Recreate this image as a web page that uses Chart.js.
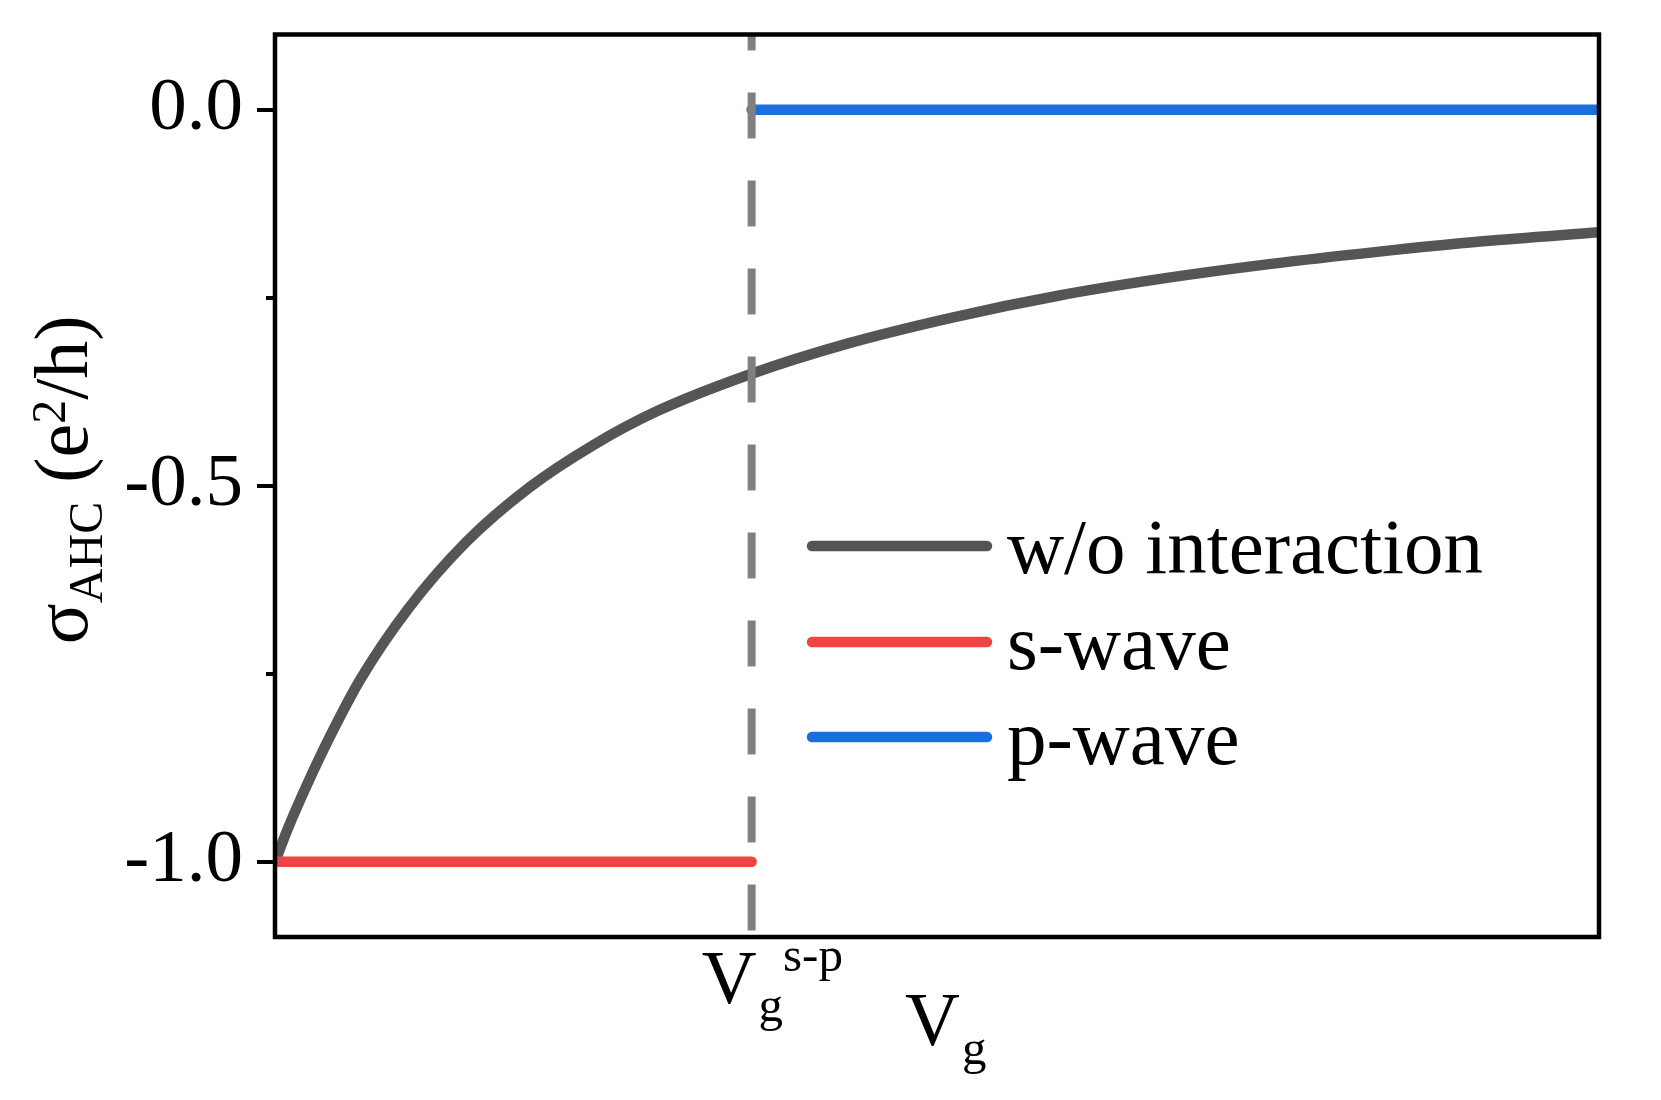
<!DOCTYPE html>
<html>
<head>
<meta charset="utf-8">
<script src="https://cdn.jsdelivr.net/npm/chart.js@4/dist/chart.umd.min.js"></script>
<style>
  html, body { margin: 0; padding: 0; background: #fff; }
  canvas { display: block; }
</style>
</head>
<body>
<canvas id="c" width="1661" height="1100"></canvas>
<script>
// ---- data ----
const vg          = [0, 0.0099, 0.0243, 0.0425, 0.0643, 0.1004, 0.1443, 0.1923, 0.2403, 0.2883, 0.36, 0.4323, 0.5123, 0.5924, 0.6724, 0.7524, 0.8324, 0.9124, 1.0];
const sigmaNoInt  = [-1.0, -0.955, -0.897, -0.83, -0.758, -0.664, -0.575, -0.502, -0.446, -0.401, -0.351, -0.311, -0.276, -0.247, -0.224, -0.205, -0.189, -0.175, -0.163];
const vgSP        = 0.36;             // V_g^{s-p} transition point
const sWaveX      = [0, vgSP];
const sWaveY      = [-1.0, -1.0];
const pWaveX      = [vgSP, 1.0];
const pWaveY      = [0.0, 0.0];
const xRange      = [0, 1];
const yRange      = [-1.1, 0.1];
const yTicks      = [-1.0, -0.5, 0.0];
const yMinorTicks = [-0.75, -0.25];
const seriesNames = ['w/o interaction', 's-wave', 'p-wave'];
const seriesColors = ['#555555', '#F04444', '#1B6FDC'];
const dashColor   = '#808080';

const pts = (xs, ys) => xs.map((x, i) => ({ x: x, y: ys[i] }));
const SERIF = '"Liberation Serif", "Times New Roman", serif';

const deco = {
  id: 'deco',
  afterDatasetsDraw(chart) {
    const { ctx, chartArea: a, scales: { x, y } } = chart;
    ctx.save();
    // frame
    ctx.strokeStyle = '#000';
    ctx.lineWidth = 4.5;
    ctx.strokeRect(a.left, a.top, a.right - a.left, a.bottom - a.top);
    // y ticks
    ctx.lineWidth = 4;
    ctx.lineCap = 'butt';
    const tick = (v, len) => {
      const py = Math.round(y.getPixelForValue(v));
      ctx.beginPath(); ctx.moveTo(a.left - len, py); ctx.lineTo(a.left, py); ctx.stroke();
    };
    yTicks.forEach(v => tick(v, 18));
    yMinorTicks.forEach(v => tick(v, 9));

    // legend
    const lgX0 = a.left + 537, lgX1 = a.left + 712, lgText = a.left + 732;
    const lgY = [546, 642, 737];
    ctx.lineCap = 'round';
    ctx.lineWidth = 10.5;
    ctx.font = '79px ' + SERIF;
    ctx.textBaseline = 'alphabetic';
    ctx.textAlign = 'left';
    seriesNames.forEach((n, i) => {
      ctx.strokeStyle = seriesColors[i];
      ctx.beginPath(); ctx.moveTo(lgX0, lgY[i]); ctx.lineTo(lgX1, lgY[i]); ctx.stroke();
      ctx.fillStyle = '#000';
      ctx.fillText(n, lgText, lgY[i] + 27);
    });

    // rich text helper
    const drawSegs = (segs, x0, y0) => {
      let cx = x0;
      segs.forEach(s => {
        ctx.font = s.f + 'px ' + SERIF;
        ctx.fillText(s.t, cx, y0 + s.dy);
        cx += ctx.measureText(s.t).width + (s.gap || 0);
      });
      return cx - x0;
    };
    const segWidth = segs => segs.reduce((w, s) => { ctx.font = s.f + 'px ' + SERIF; return w + ctx.measureText(s.t).width + (s.gap || 0); }, 0);

    ctx.fillStyle = '#000';
    // x label at transition: V_g^{s-p}
    const xd = x.getPixelForValue(vgSP);
    drawSegs([
      { t: 'V', f: 76, dy: 0, gap: 2 },
      { t: 'g', f: 49, dy: 18 },
      { t: 's-p', f: 49, dy: -32 }
    ], xd - 50, a.bottom + 66);

    // x axis title: V_g
    const xc = (a.left + a.right) / 2;
    drawSegs([
      { t: 'V', f: 76, dy: 0, gap: 2 },
      { t: 'g', f: 49, dy: 19 }
    ], xc - 32, a.bottom + 108);

    // y axis title: σ_AHC (e^2/h)
    const ySegs = [
      { t: 'σ', f: 76, dy: 0 },
      { t: 'AHC', f: 48, dy: 15 },
      { t: ' (e', f: 76, dy: 0 },
      { t: '2', f: 48, dy: -22 },
      { t: '/h)', f: 76, dy: 0 }
    ];
    const yc = (a.top + a.bottom) / 2 - 6;
    const w = segWidth(ySegs);
    ctx.translate(87, yc);
    ctx.rotate(-Math.PI / 2);
    drawSegs(ySegs, -w / 2, 0);
    ctx.restore();
  }
};

new Chart(document.getElementById('c'), {
  type: 'line',
  data: {
    datasets: [
      {
        label: 'transition',
        data: [{ x: vgSP, y: yRange[1] }, { x: vgSP, y: yRange[0] }],
        borderColor: dashColor, borderWidth: 8, borderDash: [46, 42], borderDashOffset: 30,
        pointRadius: 0, order: 0
      },
      {
        label: seriesNames[2], data: pts(pWaveX, pWaveY),
        borderColor: seriesColors[2], borderWidth: 10.5, borderCapStyle: 'round',
        pointRadius: 0, order: 1
      },
      {
        label: seriesNames[1], data: pts(sWaveX, sWaveY),
        borderColor: seriesColors[1], borderWidth: 10.5, borderCapStyle: 'round',
        pointRadius: 0, order: 2
      },
      {
        label: seriesNames[0], data: pts(vg, sigmaNoInt),
        borderColor: seriesColors[0], borderWidth: 10.5, borderCapStyle: 'round', borderJoinStyle: 'round',
        cubicInterpolationMode: 'monotone',
        pointRadius: 0, order: 3
      }
    ]
  },
  options: {
    responsive: false,
    devicePixelRatio: 1,
    animation: false,
    events: [],
    layout: { padding: { left: 0, top: 34.5, right: 62, bottom: 163 } },
    plugins: { legend: { display: false }, tooltip: { enabled: false } },
    scales: {
      x: { type: 'linear', min: xRange[0], max: xRange[1], display: false },
      y: {
        type: 'linear', min: yRange[0], max: yRange[1],
        grid: { display: false, drawTicks: false },
        border: { display: false },
        afterBuildTicks: s => { s.ticks = yTicks.map(v => ({ value: v })); },
        afterFit: s => { s.width = 275; s.paddingTop = 0; s.paddingBottom = 0; },
        ticks: {
          padding: 32,
          color: '#000',
          font: { family: SERIF, size: 75 },
          callback: v => v.toFixed(1)
        }
      }
    }
  },
  plugins: [deco]
});
</script>
</body>
</html>
